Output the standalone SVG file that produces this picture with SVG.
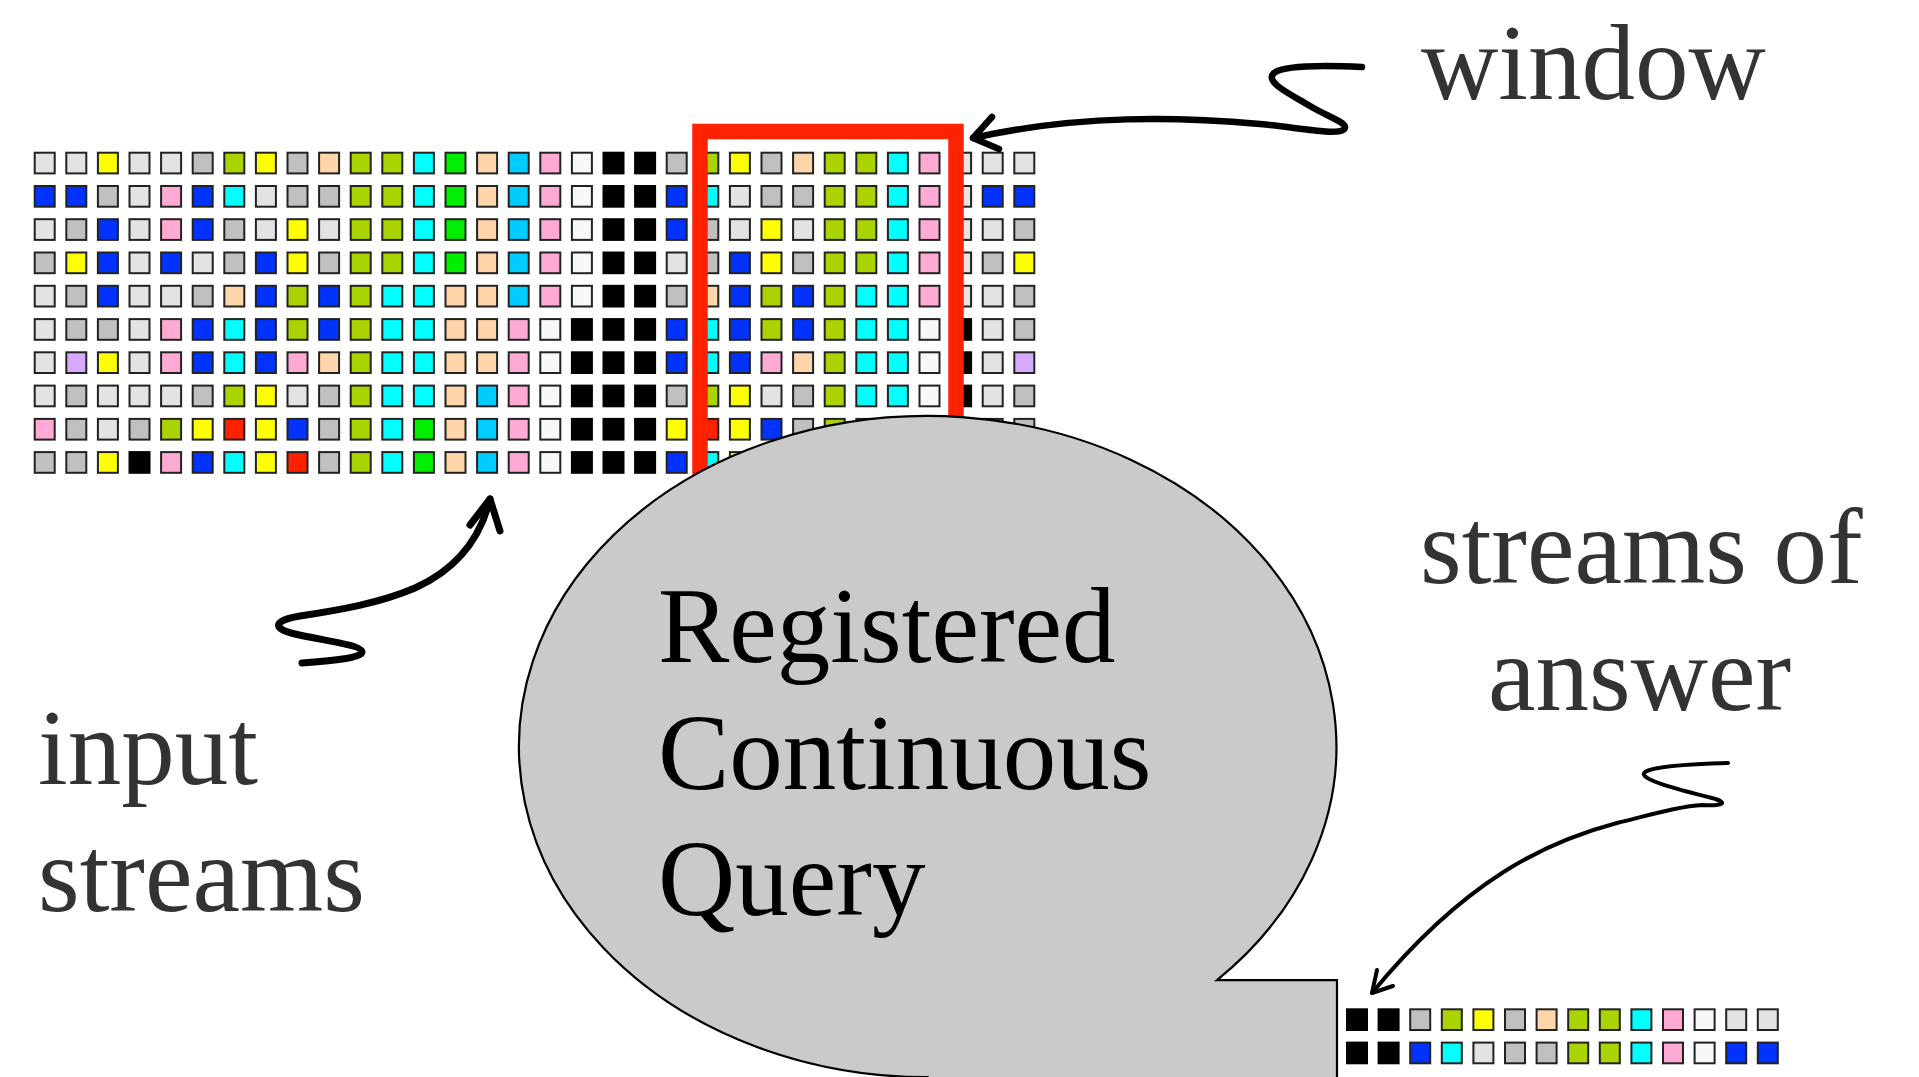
<svg xmlns="http://www.w3.org/2000/svg" xmlns:xlink="http://www.w3.org/1999/xlink" width="1919" height="1077" viewBox="0 0 1919 1077">
  <style>
    use { stroke: #222; stroke-width: 2; }
    .lg { fill: #E3E3E3; } .g { fill: #C0C0C0; } .y { fill: #FFFF00; } .yg { fill: #AAD400; }
    .pe { fill: #FFD5AA; } .b { fill: #0033FF; } .pk { fill: #FFAAD4; } .c { fill: #00FFFF; }
    .gr { fill: #00EE00; } .sb { fill: #00CCFF; } .w { fill: #F8F8F8; } .k { fill: #000000; stroke: #000; }
    .r { fill: #FF2200; } .lv { fill: #D5AAFF; }
    .label { font-family: "Liberation Serif", "Times New Roman", serif; font-size: 107px; fill: #333333; }
    .query { font-family: "Liberation Serif", "Times New Roman", serif; font-size: 107px; fill: #000000; }
    .arrow { fill: none; stroke: #000; stroke-linecap: round; stroke-linejoin: round; }
  </style>
  <defs>
    <!-- one stream tuple -->
    <rect id="q" width="20" height="20.7"/>
  </defs>
  <rect width="1919" height="1077" fill="#FFFFFF"/>

  <!-- input streams: 10 streams x 32 tuples -->
  <g id="input-grid">
    <g transform="translate(0,152.7)">
      <use href="#q" x="34.7" class="lg"/><use href="#q" x="66.3" class="lg"/><use href="#q" x="97.9" class="y"/><use href="#q" x="129.5" class="lg"/><use href="#q" x="161.1" class="lg"/><use href="#q" x="192.7" class="g"/><use href="#q" x="224.3" class="yg"/><use href="#q" x="255.9" class="y"/><use href="#q" x="287.5" class="g"/><use href="#q" x="319.1" class="pe"/><use href="#q" x="350.7" class="yg"/><use href="#q" x="382.3" class="yg"/><use href="#q" x="413.9" class="c"/><use href="#q" x="445.5" class="gr"/><use href="#q" x="477.1" class="pe"/><use href="#q" x="508.7" class="sb"/><use href="#q" x="540.3" class="pk"/><use href="#q" x="571.9" class="w"/><use href="#q" x="603.5" class="k"/><use href="#q" x="635.1" class="k"/><use href="#q" x="666.7" class="g"/><use href="#q" x="698.3" class="yg"/><use href="#q" x="729.9" class="y"/><use href="#q" x="761.5" class="g"/><use href="#q" x="793.1" class="pe"/><use href="#q" x="824.7" class="yg"/><use href="#q" x="856.3" class="yg"/><use href="#q" x="887.9" class="c"/><use href="#q" x="919.5" class="pk"/><use href="#q" x="951.1" class="lg"/><use href="#q" x="982.7" class="lg"/><use href="#q" x="1014.3" class="lg"/>
    </g>
    <g transform="translate(0,186)">
      <use href="#q" x="34.7" class="b"/><use href="#q" x="66.3" class="b"/><use href="#q" x="97.9" class="g"/><use href="#q" x="129.5" class="lg"/><use href="#q" x="161.1" class="pk"/><use href="#q" x="192.7" class="b"/><use href="#q" x="224.3" class="c"/><use href="#q" x="255.9" class="lg"/><use href="#q" x="287.5" class="g"/><use href="#q" x="319.1" class="g"/><use href="#q" x="350.7" class="yg"/><use href="#q" x="382.3" class="yg"/><use href="#q" x="413.9" class="c"/><use href="#q" x="445.5" class="gr"/><use href="#q" x="477.1" class="pe"/><use href="#q" x="508.7" class="sb"/><use href="#q" x="540.3" class="pk"/><use href="#q" x="571.9" class="w"/><use href="#q" x="603.5" class="k"/><use href="#q" x="635.1" class="k"/><use href="#q" x="666.7" class="b"/><use href="#q" x="698.3" class="c"/><use href="#q" x="729.9" class="lg"/><use href="#q" x="761.5" class="g"/><use href="#q" x="793.1" class="g"/><use href="#q" x="824.7" class="yg"/><use href="#q" x="856.3" class="yg"/><use href="#q" x="887.9" class="c"/><use href="#q" x="919.5" class="pk"/><use href="#q" x="951.1" class="lg"/><use href="#q" x="982.7" class="b"/><use href="#q" x="1014.3" class="b"/>
    </g>
    <g transform="translate(0,219.2)">
      <use href="#q" x="34.7" class="lg"/><use href="#q" x="66.3" class="g"/><use href="#q" x="97.9" class="b"/><use href="#q" x="129.5" class="lg"/><use href="#q" x="161.1" class="pk"/><use href="#q" x="192.7" class="b"/><use href="#q" x="224.3" class="g"/><use href="#q" x="255.9" class="lg"/><use href="#q" x="287.5" class="y"/><use href="#q" x="319.1" class="lg"/><use href="#q" x="350.7" class="yg"/><use href="#q" x="382.3" class="yg"/><use href="#q" x="413.9" class="c"/><use href="#q" x="445.5" class="gr"/><use href="#q" x="477.1" class="pe"/><use href="#q" x="508.7" class="sb"/><use href="#q" x="540.3" class="pk"/><use href="#q" x="571.9" class="w"/><use href="#q" x="603.5" class="k"/><use href="#q" x="635.1" class="k"/><use href="#q" x="666.7" class="b"/><use href="#q" x="698.3" class="g"/><use href="#q" x="729.9" class="lg"/><use href="#q" x="761.5" class="y"/><use href="#q" x="793.1" class="lg"/><use href="#q" x="824.7" class="yg"/><use href="#q" x="856.3" class="yg"/><use href="#q" x="887.9" class="c"/><use href="#q" x="919.5" class="pk"/><use href="#q" x="951.1" class="lg"/><use href="#q" x="982.7" class="lg"/><use href="#q" x="1014.3" class="g"/>
    </g>
    <g transform="translate(0,252.5)">
      <use href="#q" x="34.7" class="g"/><use href="#q" x="66.3" class="y"/><use href="#q" x="97.9" class="b"/><use href="#q" x="129.5" class="lg"/><use href="#q" x="161.1" class="b"/><use href="#q" x="192.7" class="lg"/><use href="#q" x="224.3" class="g"/><use href="#q" x="255.9" class="b"/><use href="#q" x="287.5" class="y"/><use href="#q" x="319.1" class="g"/><use href="#q" x="350.7" class="yg"/><use href="#q" x="382.3" class="yg"/><use href="#q" x="413.9" class="c"/><use href="#q" x="445.5" class="gr"/><use href="#q" x="477.1" class="pe"/><use href="#q" x="508.7" class="sb"/><use href="#q" x="540.3" class="pk"/><use href="#q" x="571.9" class="w"/><use href="#q" x="603.5" class="k"/><use href="#q" x="635.1" class="k"/><use href="#q" x="666.7" class="lg"/><use href="#q" x="698.3" class="g"/><use href="#q" x="729.9" class="b"/><use href="#q" x="761.5" class="y"/><use href="#q" x="793.1" class="g"/><use href="#q" x="824.7" class="yg"/><use href="#q" x="856.3" class="yg"/><use href="#q" x="887.9" class="c"/><use href="#q" x="919.5" class="pk"/><use href="#q" x="951.1" class="lg"/><use href="#q" x="982.7" class="g"/><use href="#q" x="1014.3" class="y"/>
    </g>
    <g transform="translate(0,285.8)">
      <use href="#q" x="34.7" class="lg"/><use href="#q" x="66.3" class="g"/><use href="#q" x="97.9" class="b"/><use href="#q" x="129.5" class="lg"/><use href="#q" x="161.1" class="lg"/><use href="#q" x="192.7" class="g"/><use href="#q" x="224.3" class="pe"/><use href="#q" x="255.9" class="b"/><use href="#q" x="287.5" class="yg"/><use href="#q" x="319.1" class="b"/><use href="#q" x="350.7" class="yg"/><use href="#q" x="382.3" class="c"/><use href="#q" x="413.9" class="c"/><use href="#q" x="445.5" class="pe"/><use href="#q" x="477.1" class="pe"/><use href="#q" x="508.7" class="sb"/><use href="#q" x="540.3" class="pk"/><use href="#q" x="571.9" class="w"/><use href="#q" x="603.5" class="k"/><use href="#q" x="635.1" class="k"/><use href="#q" x="666.7" class="g"/><use href="#q" x="698.3" class="pe"/><use href="#q" x="729.9" class="b"/><use href="#q" x="761.5" class="yg"/><use href="#q" x="793.1" class="b"/><use href="#q" x="824.7" class="yg"/><use href="#q" x="856.3" class="c"/><use href="#q" x="887.9" class="c"/><use href="#q" x="919.5" class="pk"/><use href="#q" x="951.1" class="lg"/><use href="#q" x="982.7" class="lg"/><use href="#q" x="1014.3" class="g"/>
    </g>
    <g transform="translate(0,319.1)">
      <use href="#q" x="34.7" class="lg"/><use href="#q" x="66.3" class="g"/><use href="#q" x="97.9" class="g"/><use href="#q" x="129.5" class="lg"/><use href="#q" x="161.1" class="pk"/><use href="#q" x="192.7" class="b"/><use href="#q" x="224.3" class="c"/><use href="#q" x="255.9" class="b"/><use href="#q" x="287.5" class="yg"/><use href="#q" x="319.1" class="b"/><use href="#q" x="350.7" class="yg"/><use href="#q" x="382.3" class="c"/><use href="#q" x="413.9" class="c"/><use href="#q" x="445.5" class="pe"/><use href="#q" x="477.1" class="pe"/><use href="#q" x="508.7" class="pk"/><use href="#q" x="540.3" class="w"/><use href="#q" x="571.9" class="k"/><use href="#q" x="603.5" class="k"/><use href="#q" x="635.1" class="k"/><use href="#q" x="666.7" class="b"/><use href="#q" x="698.3" class="c"/><use href="#q" x="729.9" class="b"/><use href="#q" x="761.5" class="yg"/><use href="#q" x="793.1" class="b"/><use href="#q" x="824.7" class="yg"/><use href="#q" x="856.3" class="c"/><use href="#q" x="887.9" class="c"/><use href="#q" x="919.5" class="w"/><use href="#q" x="951.1" class="k"/><use href="#q" x="982.7" class="lg"/><use href="#q" x="1014.3" class="g"/>
    </g>
    <g transform="translate(0,352.3)">
      <use href="#q" x="34.7" class="lg"/><use href="#q" x="66.3" class="lv"/><use href="#q" x="97.9" class="y"/><use href="#q" x="129.5" class="lg"/><use href="#q" x="161.1" class="pk"/><use href="#q" x="192.7" class="b"/><use href="#q" x="224.3" class="c"/><use href="#q" x="255.9" class="b"/><use href="#q" x="287.5" class="pk"/><use href="#q" x="319.1" class="pe"/><use href="#q" x="350.7" class="yg"/><use href="#q" x="382.3" class="c"/><use href="#q" x="413.9" class="c"/><use href="#q" x="445.5" class="pe"/><use href="#q" x="477.1" class="pe"/><use href="#q" x="508.7" class="pk"/><use href="#q" x="540.3" class="w"/><use href="#q" x="571.9" class="k"/><use href="#q" x="603.5" class="k"/><use href="#q" x="635.1" class="k"/><use href="#q" x="666.7" class="b"/><use href="#q" x="698.3" class="c"/><use href="#q" x="729.9" class="b"/><use href="#q" x="761.5" class="pk"/><use href="#q" x="793.1" class="pe"/><use href="#q" x="824.7" class="yg"/><use href="#q" x="856.3" class="c"/><use href="#q" x="887.9" class="c"/><use href="#q" x="919.5" class="w"/><use href="#q" x="951.1" class="k"/><use href="#q" x="982.7" class="lg"/><use href="#q" x="1014.3" class="lv"/>
    </g>
    <g transform="translate(0,385.6)">
      <use href="#q" x="34.7" class="lg"/><use href="#q" x="66.3" class="g"/><use href="#q" x="97.9" class="lg"/><use href="#q" x="129.5" class="lg"/><use href="#q" x="161.1" class="lg"/><use href="#q" x="192.7" class="g"/><use href="#q" x="224.3" class="yg"/><use href="#q" x="255.9" class="y"/><use href="#q" x="287.5" class="lg"/><use href="#q" x="319.1" class="g"/><use href="#q" x="350.7" class="yg"/><use href="#q" x="382.3" class="c"/><use href="#q" x="413.9" class="c"/><use href="#q" x="445.5" class="pe"/><use href="#q" x="477.1" class="sb"/><use href="#q" x="508.7" class="pk"/><use href="#q" x="540.3" class="w"/><use href="#q" x="571.9" class="k"/><use href="#q" x="603.5" class="k"/><use href="#q" x="635.1" class="k"/><use href="#q" x="666.7" class="g"/><use href="#q" x="698.3" class="yg"/><use href="#q" x="729.9" class="y"/><use href="#q" x="761.5" class="lg"/><use href="#q" x="793.1" class="g"/><use href="#q" x="824.7" class="yg"/><use href="#q" x="856.3" class="c"/><use href="#q" x="887.9" class="c"/><use href="#q" x="919.5" class="w"/><use href="#q" x="951.1" class="k"/><use href="#q" x="982.7" class="lg"/><use href="#q" x="1014.3" class="g"/>
    </g>
    <g transform="translate(0,418.9)">
      <use href="#q" x="34.7" class="pk"/><use href="#q" x="66.3" class="g"/><use href="#q" x="97.9" class="lg"/><use href="#q" x="129.5" class="g"/><use href="#q" x="161.1" class="yg"/><use href="#q" x="192.7" class="y"/><use href="#q" x="224.3" class="r"/><use href="#q" x="255.9" class="y"/><use href="#q" x="287.5" class="b"/><use href="#q" x="319.1" class="g"/><use href="#q" x="350.7" class="yg"/><use href="#q" x="382.3" class="c"/><use href="#q" x="413.9" class="gr"/><use href="#q" x="445.5" class="pe"/><use href="#q" x="477.1" class="sb"/><use href="#q" x="508.7" class="pk"/><use href="#q" x="540.3" class="w"/><use href="#q" x="571.9" class="k"/><use href="#q" x="603.5" class="k"/><use href="#q" x="635.1" class="k"/><use href="#q" x="666.7" class="y"/><use href="#q" x="698.3" class="r"/><use href="#q" x="729.9" class="y"/><use href="#q" x="761.5" class="b"/><use href="#q" x="793.1" class="g"/><use href="#q" x="824.7" class="yg"/><use href="#q" x="856.3" class="c"/><use href="#q" x="887.9" class="c"/><use href="#q" x="919.5" class="w"/><use href="#q" x="951.1" class="k"/><use href="#q" x="982.7" class="pk"/><use href="#q" x="1014.3" class="g"/>
    </g>
    <g transform="translate(0,452.1)">
      <use href="#q" x="34.7" class="g"/><use href="#q" x="66.3" class="g"/><use href="#q" x="97.9" class="y"/><use href="#q" x="129.5" class="k"/><use href="#q" x="161.1" class="pk"/><use href="#q" x="192.7" class="b"/><use href="#q" x="224.3" class="c"/><use href="#q" x="255.9" class="y"/><use href="#q" x="287.5" class="r"/><use href="#q" x="319.1" class="g"/><use href="#q" x="350.7" class="yg"/><use href="#q" x="382.3" class="c"/><use href="#q" x="413.9" class="gr"/><use href="#q" x="445.5" class="pe"/><use href="#q" x="477.1" class="sb"/><use href="#q" x="508.7" class="pk"/><use href="#q" x="540.3" class="w"/><use href="#q" x="571.9" class="k"/><use href="#q" x="603.5" class="k"/><use href="#q" x="635.1" class="k"/><use href="#q" x="666.7" class="b"/><use href="#q" x="698.3" class="c"/><use href="#q" x="729.9" class="y"/><use href="#q" x="761.5" class="b"/><use href="#q" x="793.1" class="g"/><use href="#q" x="824.7" class="yg"/><use href="#q" x="856.3" class="c"/><use href="#q" x="887.9" class="c"/><use href="#q" x="919.5" class="w"/><use href="#q" x="951.1" class="k"/><use href="#q" x="982.7" class="lg"/><use href="#q" x="1014.3" class="g"/>
    </g>
  </g>

  <!-- sliding window over the streams -->
  <g id="window">
    <rect x="700" y="131.5" width="256" height="420" fill="none" stroke="#FF2200" stroke-width="15.5"/>
  </g>

  <!-- the registered query as a speech bubble -->
  <g id="query">
    <path d="M1217,980.1 L1337,980.1 L1337,1095 L927.7,1095 L927.7,1077.2 A408.7,330.6 0 1 1 1217,980.1 Z" fill="#CACACA" stroke="#000" stroke-width="2.2" stroke-linejoin="miter"/>
    <text class="query" x="658" y="662">Registered</text>
    <text class="query" x="658" y="789">Continuous</text>
    <text class="query" x="658" y="915">Query</text>
  </g>

  <!-- answer stream -->
  <g id="answer-grid">
    <g transform="translate(0,1009.3)">
      <use href="#q" x="1347" class="k"/><use href="#q" x="1378.6" class="k"/><use href="#q" x="1410.2" class="g"/><use href="#q" x="1441.8" class="yg"/><use href="#q" x="1473.4" class="y"/><use href="#q" x="1505" class="g"/><use href="#q" x="1536.6" class="pe"/><use href="#q" x="1568.2" class="yg"/><use href="#q" x="1599.8" class="yg"/><use href="#q" x="1631.4" class="c"/><use href="#q" x="1663" class="pk"/><use href="#q" x="1694.6" class="w"/><use href="#q" x="1726.2" class="lg"/><use href="#q" x="1757.8" class="lg"/>
    </g>
    <g transform="translate(0,1042.6)">
      <use href="#q" x="1347" class="k"/><use href="#q" x="1378.6" class="k"/><use href="#q" x="1410.2" class="b"/><use href="#q" x="1441.8" class="c"/><use href="#q" x="1473.4" class="lg"/><use href="#q" x="1505" class="g"/><use href="#q" x="1536.6" class="g"/><use href="#q" x="1568.2" class="yg"/><use href="#q" x="1599.8" class="yg"/><use href="#q" x="1631.4" class="c"/><use href="#q" x="1663" class="pk"/><use href="#q" x="1694.6" class="w"/><use href="#q" x="1726.2" class="b"/><use href="#q" x="1757.8" class="b"/>
    </g>
  </g>

  <!-- labels -->
  <g id="label-window"><text class="label" x="1421" y="99">window</text></g>
  <g id="label-input">
    <text class="label" x="38" y="784">input</text>
    <text class="label" x="38" y="911">streams</text>
  </g>
  <g id="label-answer">
    <text class="label" x="1420" y="583">streams of</text>
    <text class="label" x="1488" y="710">answer</text>
  </g>

  <!-- hand-drawn pointers -->
  <g id="connectors">
    <path class="arrow" stroke-width="6.5" d="M1362,67 C1320,65 1283,66 1274,73 C1264,82 1290,94 1310,106 C1330,118 1352,124 1343,130 C1335,135 1300,128 1260,124 C1180,117 1080,114 973,138"/>
    <path class="arrow" stroke-width="6.5" d="M999,149 L973,138 L992,117"/>
    <path class="arrow" stroke-width="7" d="M302,663 C330,661 362,658 362,652 C362,645 320,640 295,634 C270,628 275,620 300,616 C340,610 380,603 415,588 C455,570 480,540 490,499"/>
    <path class="arrow" stroke-width="7" d="M470,525 L490,499 L500,531"/>
    <path class="arrow" stroke-width="4" d="M1728,763 C1690,764 1655,766 1645,772 C1636,779 1680,790 1712,798 C1730,803 1722,806 1703,805 C1680,806 1650,815 1617,823 C1545,842 1465,880 1372,993"/>
    <path class="arrow" stroke-width="4" d="M1377,970 L1372,993 L1393,986"/>
  </g>
</svg>
